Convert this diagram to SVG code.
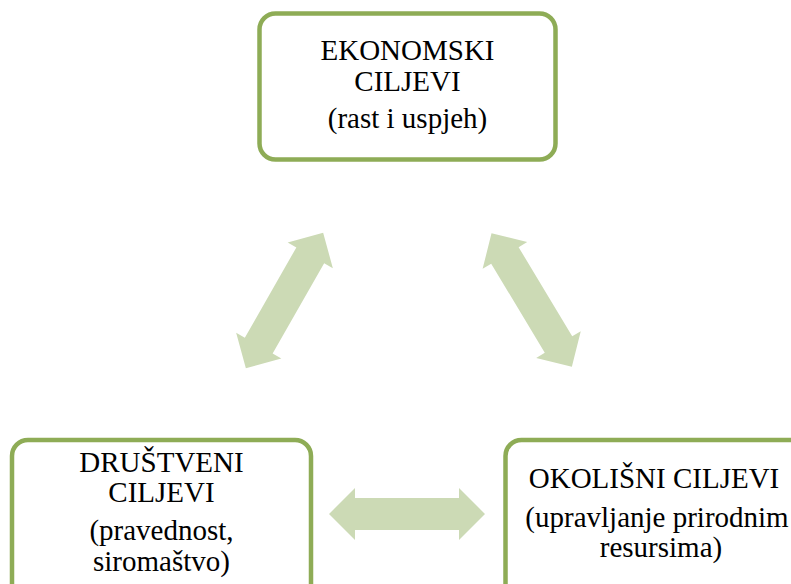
<svg xmlns="http://www.w3.org/2000/svg" width="791" height="584" viewBox="0 0 791 584">
  <defs>
    <style>
      .box { fill: #ffffff; stroke: #8EAC56; stroke-width: 4.5; }
      .lbl { font-family: "Liberation Serif", "Times New Roman", serif; font-size: 29px; fill: #000000; text-anchor: middle; }
      .arr { fill: #CCDAB5; stroke: none; }
    </style>
    <path id="dblarrow" d="M-78,0 L-52,-26 L-52,-16 L52,-16 L52,-26 L78,0 L52,26 L52,16 L-52,16 L-52,26 Z"/>
  </defs>
  <rect width="791" height="584" fill="#ffffff"/>

  <g id="connectors">
    <use href="#dblarrow" class="arr" transform="translate(284.5,300.5) rotate(-60.3)"/>
    <use href="#dblarrow" class="arr" transform="translate(531.7,300) rotate(59)"/>
    <use href="#dblarrow" class="arr" transform="translate(407,514)"/>
  </g>

  <g id="ekonomski">
    <rect class="box" x="259.5" y="13.5" width="296" height="146" rx="16" ry="16"/>
    <text class="lbl" x="407.5" y="60">EKONOMSKI</text>
    <text class="lbl" x="407.5" y="91">CILJEVI</text>
    <text class="lbl" x="407.5" y="128">(rast i uspjeh)</text>
  </g>

  <g id="drustveni">
    <rect class="box" x="12" y="440" width="299" height="170" rx="16" ry="16"/>
    <text class="lbl" x="161.5" y="472">DRUŠTVENI</text>
    <text class="lbl" x="161.5" y="502">CILJEVI</text>
    <text class="lbl" x="161.5" y="540">(pravednost,</text>
    <text class="lbl" x="161.5" y="571">siromaštvo)</text>
  </g>

  <g id="okolisni">
    <rect class="box" x="505.5" y="440" width="300" height="170" rx="16" ry="16"/>
    <text class="lbl" x="654" y="488">OKOLIŠNI CILJEVI</text>
    <text class="lbl" x="657" y="527">(upravljanje prirodnim</text>
    <text class="lbl" x="661" y="557">resursima)</text>
  </g>
</svg>
